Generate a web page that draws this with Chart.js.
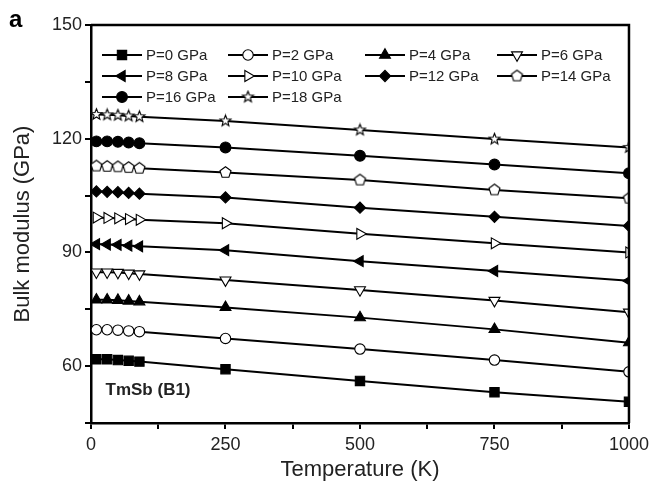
<!DOCTYPE html>
<html lang="en">
<head>
<meta charset="UTF-8">
<title>TmSb (B1) bulk modulus</title>
<style>
  body { margin: 0; background: #fff; }
  #bulkChart { display: block; }
</style>
<script src="https://cdn.jsdelivr.net/npm/chart.js"></script>
</head>
<body>
<canvas id="bulkChart" width="654" height="483"></canvas>
<script>
// Temperatures (K) where the bulk modulus was evaluated
const temperatures = [10, 30, 50, 70, 90, 250, 500, 750, 1000];

// Bulk modulus (GPa) at each pressure
const bulkP0  = [61.8, 61.8, 61.6, 61.4, 61.2, 59.2, 56.1, 53.1, 50.6];
const bulkP2  = [69.6, 69.6, 69.5, 69.3, 69.1, 67.3, 64.5, 61.6, 58.5];
const bulkP4  = [77.5, 77.5, 77.4, 77.2, 77.0, 75.5, 72.8, 69.7, 66.2];
const bulkP6  = [84.8, 84.8, 84.7, 84.5, 84.3, 82.7, 80.1, 77.3, 74.2];
const bulkP8  = [92.2, 92.1, 92.0, 91.8, 91.6, 90.6, 87.7, 85.1, 82.5];
const bulkP10 = [99.2, 99.1, 99.0, 98.8, 98.6, 97.7, 94.9, 92.4, 90.0];
const bulkP12 = [106.1, 106.0, 105.9, 105.7, 105.5, 104.5, 101.8, 99.4, 97.0];
const bulkP14 = [112.8, 112.7, 112.6, 112.4, 112.2, 111.1, 109.1, 106.5, 104.3];
const bulkP16 = [119.3, 119.3, 119.2, 119.0, 118.8, 117.7, 115.5, 113.2, 110.9];
const bulkP18 = [126.4, 126.3, 126.2, 126.0, 125.8, 124.7, 122.3, 119.9, 117.7];

const seriesLabels = ['P=0 GPa', 'P=2 GPa', 'P=4 GPa', 'P=6 GPa', 'P=8 GPa',
                      'P=10 GPa', 'P=12 GPa', 'P=14 GPa', 'P=16 GPa', 'P=18 GPa'];
const seriesValues = [bulkP0, bulkP2, bulkP4, bulkP6, bulkP8,
                      bulkP10, bulkP12, bulkP14, bulkP16, bulkP18];

// labelled ticks; the others in between are left as bare tick marks
const xTickLabels = [0, 250, 500, 750, 1000];
const yTickLabels = [60, 90, 120, 150];

// small open-marker images (pentagon, five-point star)
function shapeCanvas(points) {
  const c = document.createElement('canvas');
  c.width = 15; c.height = 15;
  const g = c.getContext('2d');
  g.beginPath();
  points.forEach(([px, py], i) => i ? g.lineTo(7.5 + px, 7.5 + py) : g.moveTo(7.5 + px, 7.5 + py));
  g.closePath();
  g.fillStyle = '#fff';
  g.fill();
  g.lineWidth = 1.1;
  g.strokeStyle = '#000';
  g.stroke();
  return c;
}
function polygon(n, rOuter, rInner) {
  const pts = [];
  const step = rInner ? n * 2 : n;
  for (let k = 0; k < step; k++) {
    const a = -Math.PI / 2 + k * 2 * Math.PI / step;
    const r = rInner && k % 2 ? rInner : rOuter;
    pts.push([Math.cos(a) * r, Math.sin(a) * r]);
  }
  return pts;
}
const pentagon = shapeCanvas(polygon(5, 5.8));
const openStar = shapeCanvas(polygon(5, 5.8, 2.5));

const markerStyle    = ['rect', 'circle', 'triangle', 'triangle', 'triangle',
                        'triangle', 'rectRot', pentagon, 'circle', openStar];
const markerRotation = [0, 0, 0, 180, -90, 90, 0, 0, 0, 0];
const markerFilled   = [true, false, true, false, true, false, true, false, true, false];
const markerRadius   = [6.6, 5.2, 6.3, 6.3, 6.3, 6.3, 5.6, 6, 5.4, 6];

const FONT = "'Liberation Sans', Arial, Helvetica, sans-serif";
Chart.defaults.font.family = FONT;
Chart.defaults.color = '#222';

const datasets = seriesValues.map((vals, i) => ({
  label: seriesLabels[i],
  data: temperatures.map((t, j) => ({ x: t, y: vals[j] })),
  borderColor: '#000',
  borderWidth: 2,
  tension: 0,
  pointStyle: markerStyle[i],
  pointRotation: markerRotation[i],
  pointRadius: markerRadius[i],
  pointBorderWidth: 1.1,
  pointBorderColor: '#000',
  pointBackgroundColor: markerFilled[i] ? '#000' : '#fff'
}));

// legend laid out inside the plot, four entries per row
const legendCols = [102, 228, 365, 497];
const legendRows = [55, 76, 97];

const plotExtras = {
  id: 'plotExtras',
  afterDraw(chart) {
    const ctx = chart.ctx;
    const area = chart.chartArea;
    const xs = chart.scales.x, ys = chart.scales.y;
    ctx.save();

    // close the frame on top and right
    ctx.strokeStyle = '#000';
    ctx.lineWidth = 2.5;
    ctx.beginPath();
    ctx.moveTo(area.left, area.top);
    ctx.lineTo(area.right, area.top);
    ctx.lineTo(area.right, area.bottom);
    ctx.stroke();

    // legend
    chart.data.datasets.forEach((ds, i) => {
      const x = legendCols[i % 4];
      const y = legendRows[Math.floor(i / 4)];
      ctx.strokeStyle = '#000';
      ctx.lineWidth = 2;
      ctx.beginPath();
      ctx.moveTo(x, y);
      ctx.lineTo(x + 40, y);
      ctx.stroke();
      ctx.fillStyle = ds.pointBackgroundColor;
      ctx.lineWidth = ds.pointBorderWidth;
      Chart.helpers.drawPoint(ctx, {
        pointStyle: ds.pointStyle,
        rotation: ds.pointRotation,
        radius: ds.pointRadius,
        borderWidth: ds.pointBorderWidth
      }, x + 20, y);
      ctx.fillStyle = '#222';
      ctx.font = '15px ' + FONT;
      ctx.textAlign = 'left';
      ctx.textBaseline = 'middle';
      ctx.fillText(ds.label, x + 44, y + 1);
    });

    // compound label
    ctx.fillStyle = '#222';
    ctx.font = 'bold 17px ' + FONT;
    ctx.textBaseline = 'middle';
    ctx.fillText('TmSb (B1)', xs.getPixelForValue(27), ys.getPixelForValue(53.5));

    // panel letter
    ctx.fillStyle = '#000';
    ctx.font = 'bold 24px ' + FONT;
    ctx.fillText('a', 9, 20);
    ctx.restore();
  }
};

new Chart(document.getElementById('bulkChart'), {
  type: 'line',
  data: { datasets },
  options: {
    responsive: false,
    animation: false,
    devicePixelRatio: 1,
    layout: { padding: { top: 25, right: 22, left: 0, bottom: 0 } },
    plugins: {
      legend: { display: false },
      tooltip: { enabled: false }
    },
    scales: {
      x: {
        type: 'linear',
        min: 0,
        max: 1000,
        afterFit(scale) { scale.height = 60; },
        ticks: {
          stepSize: 125,
          autoSkip: false,
          maxRotation: 0,
          padding: 5,
          font: { size: 18 },
          callback: v => xTickLabels.includes(v) ? String(v) : ''
        },
        grid: { drawOnChartArea: false, drawTicks: true, tickLength: 6, color: '#000', lineWidth: 2 },
        border: { display: true, color: '#000', width: 2.5 },
        title: {
          display: true,
          text: 'Temperature (K)',
          font: { size: 22 },
          padding: { top: 2, bottom: 0 }
        }
      },
      y: {
        min: 45,
        max: 150,
        afterFit(scale) { scale.width = 91; },
        ticks: {
          stepSize: 15,
          autoSkip: false,
          padding: 3,
          font: { size: 18 },
          callback: v => yTickLabels.includes(v) ? String(v) : ''
        },
        grid: { drawOnChartArea: false, drawTicks: true, tickLength: 6, color: '#000', lineWidth: 2 },
        border: { display: true, color: '#000', width: 2.5 },
        title: {
          display: true,
          text: 'Bulk modulus (GPa)',
          font: { size: 22 },
          padding: { top: 10, bottom: 4 }
        }
      }
    }
  },
  plugins: [plotExtras]
});
</script>
</body>
</html>
